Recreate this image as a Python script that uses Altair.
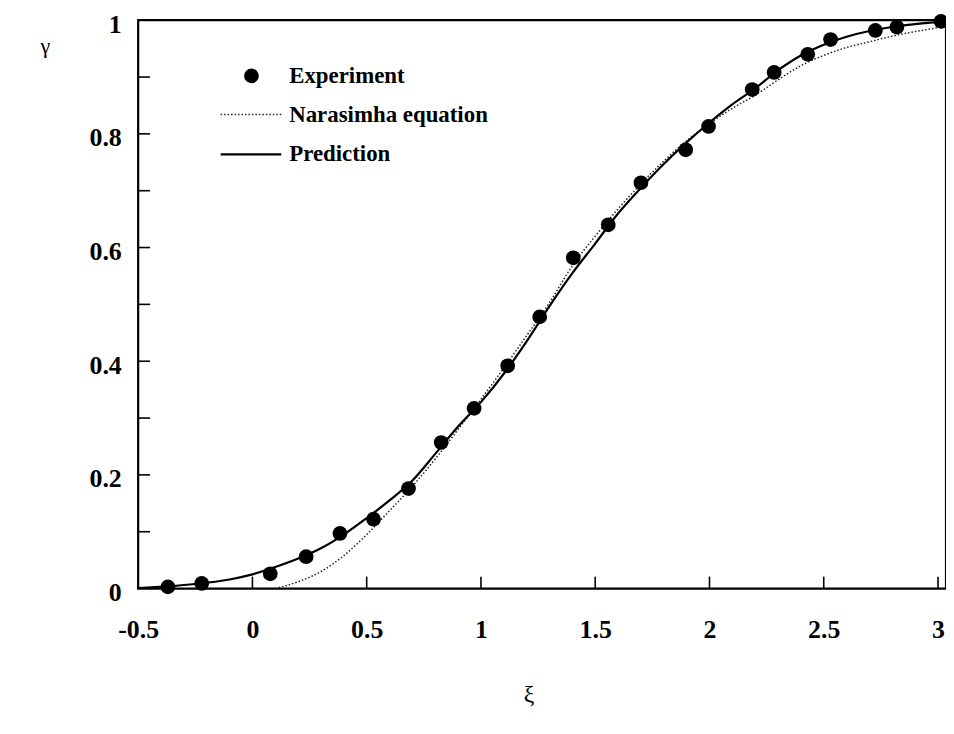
import altair as alt
import pandas as pd

# ---------------- data ----------------
exp_xi = [-0.37, -0.222, 0.078, 0.235, 0.383, 0.53, 0.683, 0.826, 0.97, 1.117,
          1.257, 1.404, 1.557, 1.70, 1.896, 1.996, 2.187, 2.283, 2.43, 2.53,
          2.726, 2.82, 3.013]
exp_gamma = [0.003, 0.009, 0.026, 0.056, 0.097, 0.122, 0.176, 0.257, 0.317, 0.392,
             0.478, 0.582, 0.640, 0.714, 0.772, 0.813, 0.878, 0.908, 0.94, 0.966,
             0.982, 0.988, 0.998]

nar_xi = [0.1, 0.2, 0.3, 0.4, 0.5, 0.6, 0.7, 0.8, 0.9, 1.0, 1.1, 1.2, 1.3, 1.4,
          1.5, 1.6, 1.7, 1.8, 1.9, 2.0, 2.1, 2.2, 2.3, 2.4, 2.5, 2.6, 2.7, 2.8,
          2.9, 3.0, 3.035]
nar_gamma = [0.0, 0.012, 0.030, 0.058, 0.095, 0.137, 0.180, 0.228, 0.280, 0.333,
             0.388, 0.445, 0.503, 0.568, 0.620, 0.668, 0.712, 0.752, 0.788, 0.818,
             0.845, 0.868, 0.895, 0.920, 0.938, 0.952, 0.962, 0.972, 0.980, 0.987,
             0.990]

pred_xi = [-0.5, -0.37, -0.25, -0.1, 0.0, 0.1, 0.2, 0.3, 0.4, 0.5, 0.6, 0.7, 0.8,
           0.9, 1.0, 1.1, 1.2, 1.3, 1.4, 1.5, 1.6, 1.7, 1.8, 1.9, 2.0, 2.1, 2.2,
           2.3, 2.4, 2.5, 2.6, 2.7, 2.8, 2.9, 3.0, 3.035]
pred_gamma = [0.001, 0.004, 0.008, 0.016, 0.025, 0.038, 0.053, 0.071, 0.095, 0.124,
              0.155, 0.190, 0.237, 0.285, 0.328, 0.378, 0.435, 0.497, 0.555, 0.607,
              0.660, 0.705, 0.747, 0.785, 0.820, 0.852, 0.880, 0.912, 0.938, 0.957,
              0.971, 0.981, 0.988, 0.993, 0.997, 0.998]

x_tick_values = [-0.5, 0, 0.5, 1, 1.5, 2, 2.5, 3]
y_tick_values = [0, 0.2, 0.4, 0.6, 0.8, 1]
y_minor_values = [0.1, 0.2, 0.3, 0.4, 0.5, 0.6, 0.7, 0.8, 0.9]
legend_labels = ["Experiment", "Narasimha equation", "Prediction"]

# ---------------- styling ----------------
FONT = "Liberation Serif"
W, H = 813, 572

exp_df = pd.DataFrame({"xi": exp_xi, "gamma": exp_gamma})
nar_df = pd.DataFrame({"xi": nar_xi, "gamma": nar_gamma})
pred_df = pd.DataFrame({"xi": pred_xi, "gamma": pred_gamma})
xt_df = pd.DataFrame({"xi": x_tick_values})
yt_df = pd.DataFrame({"gamma": y_minor_values})

xscale = alt.Scale(domain=[-0.5, 3.035], nice=False, zero=False)
yscale = alt.Scale(domain=[0, 1], nice=False, zero=False)

xaxis = alt.Axis(values=x_tick_values, labelExpr="'' + datum.value", title="ξ",
                 ticks=False, domain=False, grid=False, labelFlush=False,
                 labelOverlap=False, labelFont=FONT, labelFontWeight="bold",
                 labelFontSize=26, labelColor="black", labelPadding=28,
                 titleFont=FONT, titleFontWeight="normal", titleFontSize=24,
                 titleColor="black", titleX=393, titleY=107, titleAlign="center",
                 titleBaseline="middle")
yaxis = alt.Axis(values=y_tick_values, labelExpr="'' + datum.value", title="γ",
                 ticks=False, domain=False, grid=False, labelFlush=False,
                 labelOverlap=False, labelFont=FONT, labelFontWeight="bold",
                 labelFontSize=26, labelColor="black", labelPadding=17,
                 labelOffset=4,
                 titleFont=FONT, titleFontWeight="normal", titleFontSize=22,
                 titleColor="black", titleAngle=0, titleX=-94, titleY=26,
                 titleAlign="center", titleBaseline="middle")

X = alt.X("xi:Q", scale=xscale, axis=xaxis)
Y = alt.Y("gamma:Q", scale=yscale, axis=yaxis)

nar_line = alt.Chart(nar_df).mark_line(
    color="#222222", strokeWidth=1.5, strokeDash=[1.5, 2.0], interpolate="monotone"
).encode(x=X, y=Y)

pred_line = alt.Chart(pred_df).mark_line(
    color="black", strokeWidth=2.2, interpolate="monotone"
).encode(x=X, y=Y)

points = alt.Chart(exp_df).mark_circle(
    color="black", size=220, opacity=1
).encode(x=X, y=Y)

x_ticks = alt.Chart(xt_df).mark_rule(color="black", strokeWidth=1.6).encode(
    x=X, y=alt.value(H), y2=alt.value(H - 12))

y_ticks = alt.Chart(yt_df).mark_rule(color="black", strokeWidth=1.6).encode(
    y=Y, x=alt.value(0), x2=alt.value(12))

# ---------------- legend ----------------
leg_rows = [56, 95, 135]
leg_layers = []
for lab, ry in zip(legend_labels, leg_rows):
    d = pd.DataFrame({"label": [lab]})
    leg_layers.append(
        alt.Chart(d).mark_text(align="left", baseline="middle", font=FONT,
                               fontWeight="bold", fontSize=23, color="black")
        .encode(x=alt.value(152), y=alt.value(ry), text="label:N"))
leg_dot = alt.Chart(pd.DataFrame({"label": [legend_labels[0]]})).mark_circle(
    color="black", size=220, opacity=1).encode(x=alt.value(114), y=alt.value(leg_rows[0]))
leg_dotted = alt.Chart(pd.DataFrame({"label": [legend_labels[1]]})).mark_rule(
    color="#222222", strokeWidth=1.5, strokeDash=[1.5, 2.0]).encode(
    x=alt.value(83), x2=alt.value(144), y=alt.value(leg_rows[1]))
leg_solid = alt.Chart(pd.DataFrame({"label": [legend_labels[2]]})).mark_rule(
    color="black", strokeWidth=2.2).encode(
    x=alt.value(83), x2=alt.value(144), y=alt.value(leg_rows[2]))

chart = alt.layer(
    nar_line, pred_line, points, x_ticks, y_ticks,
    leg_dot, leg_dotted, leg_solid, *leg_layers
).properties(
    width=W, height=H,
    autosize=alt.AutoSizeParams(type="none"),
    padding={"left": 131, "top": 10, "right": 0, "bottom": 130},
    background="white",
).configure_view(stroke="black", strokeWidth=2.2)

chart.save("out.html", embed_options={"renderer": "svg", "actions": False})
